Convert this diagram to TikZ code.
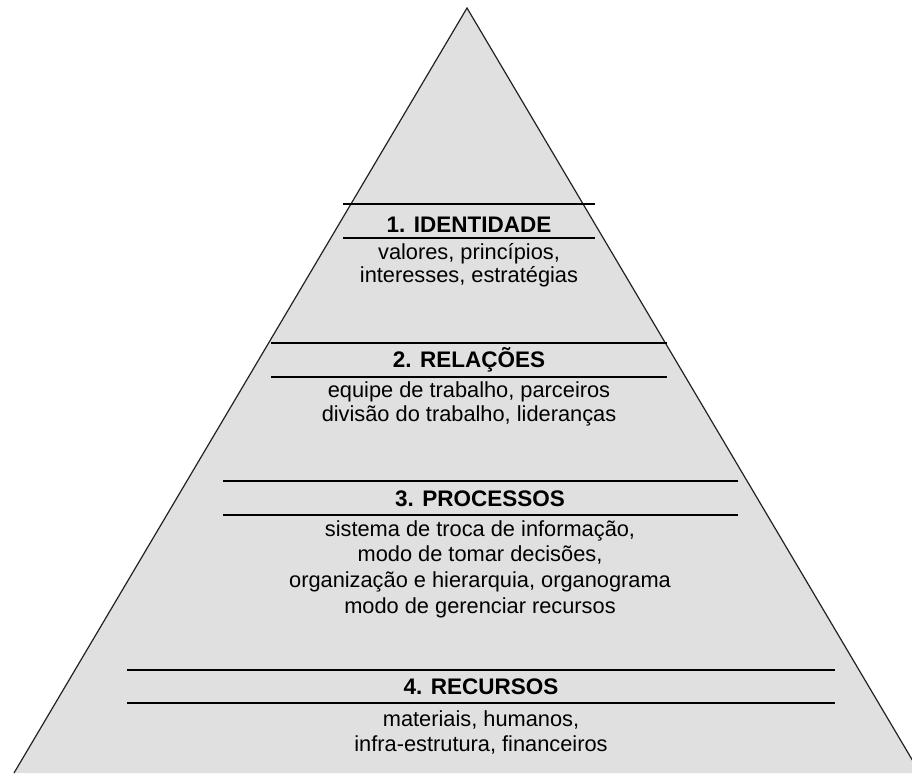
\documentclass[tikz,border=0pt]{standalone}
\usepackage{fontspec}
\setmainfont{Liberation Sans}
\usepackage{xcolor}
\definecolor{pyrfill}{RGB}{224,224,224}
\definecolor{pyredge}{RGB}{34,34,34}

\begin{document}
\begin{tikzpicture}[x=1pt, y=-1pt,
  head/.style={anchor=base, inner sep=0pt, font=\fontsize{22.5}{24}\selectfont\bfseries},
  body/.style={anchor=base, align=center, inner sep=0pt},
  rule/.style={line width=2pt},
]
  \useasboundingbox (0,0) rectangle (912,773);
  \clip (0,0) rectangle (912,773);
  \coordinate (top) at (467,8);
  \coordinate (bl) at (14,773);
  \coordinate (br) at (920,773);
  \fill[pyrfill] (top) -- (bl) -- (br) -- cycle;
  \draw[pyredge, line width=1.2pt] (bl) -- (top) -- (br);

  \draw[rule] (343,204) -- (595,204);
  \node[head] (h1) at (469,232) {1. IDENTIDADE};
  \draw[rule] (343,238) -- (595,238);
  \node[body, font=\fontsize{21.8}{23}\selectfont] (b1) at (469,282)
    {valores, princípios,\\ interesses, estratégias};

  \draw[rule] (271,343) -- (667,343);
  \node[head] (h2) at (469,367) {2. RELAÇÕES};
  \draw[rule] (271,377) -- (667,377);
  \node[body, font=\fontsize{21.8}{24}\selectfont] (b2) at (469,421)
    {equipe de trabalho, parceiros\\ divisão do trabalho, lideranças};

  \draw[rule] (223,481) -- (738,481);
  \node[head] (h3) at (480,506) {3. PROCESSOS};
  \draw[rule] (223,515) -- (738,515);
  \node[body, font=\fontsize{21.8}{25.6}\selectfont] (b3) at (480,613)
    {sistema de troca de informação,\\ modo de tomar decisões,\\ organização e hierarquia, organograma\\ modo de gerenciar recursos};

  \draw[rule] (127,670) -- (835,670);
  \node[head] (h4) at (481,694) {4. RECURSOS};
  \draw[rule] (127,703) -- (835,703);
  \node[body, font=\fontsize{21.8}{25}\selectfont] (b4) at (481,751)
    {materiais, humanos,\\ infra-estrutura, financeiros};
\end{tikzpicture}
\end{document}
